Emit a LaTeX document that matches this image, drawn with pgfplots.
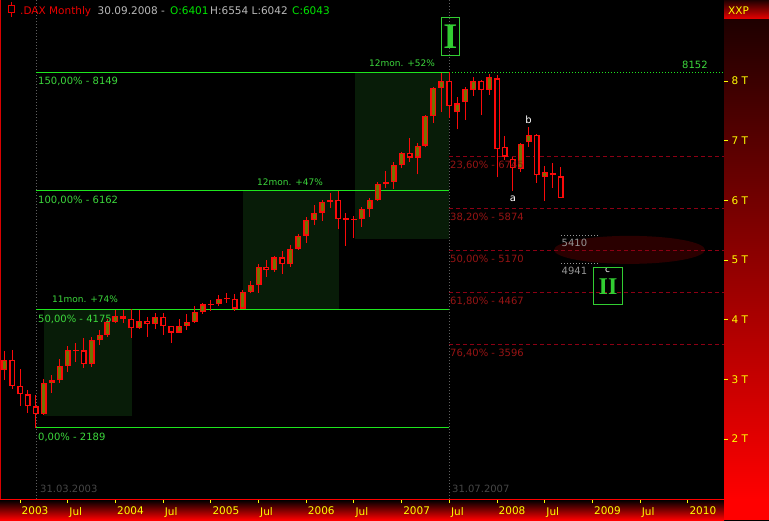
\documentclass[border=0pt]{standalone}
\usepackage{pgfplots}
\pgfplotsset{compat=1.18}
\usepackage{pgfplotstable}
\usepackage{fontspec}
\setmainfont{DejaVu Sans}
\newfontfamily\romanbold{Liberation Serif}[BoldFont=*,UprightFont=* Bold]
\definecolor{candle}{RGB}{250,10,10}
\definecolor{bullfill}{RGB}{115,115,0}
\definecolor{fibgreen}{RGB}{30,230,30}
\definecolor{labgreen}{RGB}{60,215,60}
\definecolor{zone}{RGB}{8,28,8}
\definecolor{fibred}{RGB}{140,0,20}
\definecolor{fibtext}{RGB}{150,20,20}
\definecolor{txtgrey}{RGB}{150,150,150}
\definecolor{hdrgrey}{RGB}{185,185,185}
\definecolor{hdrgreen}{RGB}{0,230,0}
\definecolor{hdrred}{RGB}{235,0,0}
\definecolor{dimgrey}{RGB}{70,70,70}
\definecolor{dotgrey}{RGB}{95,95,95}
\definecolor{ellred}{RGB}{42,0,0}
\definecolor{tickyellow}{RGB}{255,255,0}
\definecolor{bandtop}{RGB}{30,0,0}
\definecolor{boxgreen}{RGB}{50,205,50}

% DAX monthly OHLC, m = months since Jan 2003
\pgfplotstableread{
m o h l c
-2 3150 3470 2990 3320
-1 3320 3490 2840 2893
0 2893 3170 2560 2748
1 2748 2830 2440 2547
2 2547 2730 2189 2424
3 2424 3010 2398 2942
4 2942 3075 2779 2983
5 2983 3343 2936 3221
6 3221 3560 3126 3487
7 3487 3606 3293 3484
8 3484 3695 3193 3257
9 3257 3718 3200 3655
10 3655 3829 3583 3746
11 3746 4013 3717 3965
12 3965 4164 3941 4058
13 4058 4164 3952 4018
14 4018 4176 3700 3856
15 3856 4164 3841 3985
16 3985 4042 3717 3921
17 3921 4108 3851 4053
18 4053 4119 3745 3895
19 3895 3896 3617 3785
20 3785 4013 3780 3893
21 3893 4097 3829 3960
22 3960 4231 3952 4126
23 4126 4281 4097 4256
24 4256 4332 4153 4262
25 4255 4410 4232 4350
26 4350 4443 4276 4354
27 4349 4432 4147 4185
28 4185 4499 4180 4461
29 4461 4650 4440 4586
30 4586 4930 4444 4887
31 4887 4997 4722 4830
32 4830 5074 4806 5044
33 5044 5152 4762 4929
34 4929 5253 4889 5193
35 5193 5442 5169 5408
36 5408 5717 5291 5674
37 5674 5923 5588 5796
38 5796 6007 5655 5970
39 5970 6119 5868 6009
40 6009 6162 5516 5692
41 5692 5784 5243 5683
42 5683 5739 5365 5682
43 5682 5885 5560 5860
44 5860 6045 5717 6004
45 6004 6308 5990 6269
46 6269 6492 6203 6309
47 6309 6648 6196 6597
48 6597 6816 6537 6789
49 6789 7040 6650 6716
50 6716 6956 6437 6917
51 6917 7425 6889 7409
52 7409 7905 7302 7884
53 7884 8129 7486 8007
54 8007 8152 7375 7584
55 7476 7727 7191 7626
56 7643 7905 7347 7861
57 7844 8072 7749 8005
58 8005 8017 7430 7849
59 7849 8112 7771 8062
60 8045 8100 6387 6856
61 6889 7079 6677 6732
62 6688 6722 6163 6538
63 6521 6956 6481 6940
64 6973 7224 6900 7090
65 7090 7112 6296 6420
66 6387 6576 5995 6471
67 6454 6621 6213 6420
68 6401 6554 6042 6043
}\dax

\begin{document}
\begin{tikzpicture}[x=1pt,y=1pt]
\path[use as bounding box] (0,-21) rectangle (769,499);
% background in pixel coordinates
\begin{scope}[x=1pt,y=-1pt,shift={(0pt,499pt)}]
  \fill[black] (-1,-1) rectangle (770,521);
  \shade[top color=black, bottom color=red] (0,500) rectangle (724,520);
  \shade[top color=bandtop, bottom color=red] (724,19) rectangle (769,500);
  \shade[top color=bandtop, bottom color=red!92!black] (724,0) rectangle (769,19);
  \fill[red] (724,499) rectangle (769,520);
\end{scope}
\begin{axis}[
  at={(0pt,0pt)}, anchor=south west,
  width=724pt, height=499pt, scale only axis,
  xmin=-2.516, xmax=88.553, ymin=995, ymax=9357.5,
  axis line style={draw=none},
  xtick={0,6,...,84},
  xticklabels={2003,Jul,2004,Jul,2005,Jul,2006,Jul,2007,Jul,2008,Jul,2009,Jul,2010},
  ytick={2000,3000,...,8000},
  yticklabels={2 T,3 T,4 T,5 T,6 T,7 T,8 T},
  xtick pos=left, ytick pos=right,
  tick align=outside, major tick length=4pt,
  tick style={draw=tickyellow, line width=1pt},
  tick label style={text=tickyellow, font=\fontsize{10.5}{12}\selectfont},
  xticklabel style={anchor=north west, inner sep=0pt, xshift=1.5pt, yshift=-4pt},
  yticklabel style={anchor=west, inner sep=0pt, xshift=3.5pt},
]
% shaded growth zones
\fill[zone] (axis cs:3,2389) rectangle (axis cs:14.1,4175);
\fill[zone] (axis cs:28.05,4175) rectangle (axis cs:40.1,6162);
\fill[zone] (axis cs:42.1,5353) rectangle (axis cs:54,8149);
% vertical date markers
\draw[dotgrey, dash pattern=on 1pt off 2pt] (axis cs:2,995) -- (axis cs:2,9357.5);
\draw[dotgrey, dash pattern=on 1pt off 2pt] (axis cs:54,995) -- (axis cs:54,9357.5);
% target ellipse
\fill[ellred] (axis cs:76.67,5170) ellipse [x radius=75.5pt, y radius=14pt];
% extension levels
\draw[fibgreen, line width=1pt] (axis cs:2,8149) -- (axis cs:54,8149);
\draw[fibgreen, line width=1pt] (axis cs:2,6162) -- (axis cs:54,6162);
\draw[fibgreen, line width=1pt] (axis cs:2,4175) -- (axis cs:54,4175);
\draw[fibgreen, line width=1pt] (axis cs:2,2189) -- (axis cs:54,2189);
% retracement levels
\draw[fibred, dash pattern=on 4pt off 3pt] (axis cs:54,6745) -- (axis cs:88.553,6745);
\draw[fibred, dash pattern=on 4pt off 3pt] (axis cs:54,5874) -- (axis cs:88.553,5874);
\draw[fibred, dash pattern=on 4pt off 3pt] (axis cs:54,5170) -- (axis cs:88.553,5170);
\draw[fibred, dash pattern=on 4pt off 3pt] (axis cs:54,4467) -- (axis cs:88.553,4467);
\draw[fibred, dash pattern=on 4pt off 3pt] (axis cs:54,3596) -- (axis cs:88.553,3596);
\draw[fibgreen, dash pattern=on 1pt off 2pt] (axis cs:54,8152) -- (axis cs:88.553,8152);
\draw[txtgrey, dash pattern=on 1pt off 2pt] (axis cs:68.05,5410) -- (axis cs:72.6,5410);
\draw[txtgrey, dash pattern=on 1pt off 2pt] (axis cs:68.05,4941) -- (axis cs:72.6,4941);
% wicks
\addplot[draw=none, mark=none, forget plot,
  error bars/.cd, y dir=plus, y explicit, error mark=none,
  error bar style={draw=candle, line width=1pt, solid}]
  table[x=m, y=l, y error expr=\thisrow{h}-\thisrow{l}] {\dax};
% bodies (outline)
\addplot[draw=none, mark=none, forget plot,
  error bars/.cd, y dir=plus, y explicit, error mark=none,
  error bar style={draw=candle, line width=6pt, solid}]
  table[x=m, y expr={(\thisrow{o}+\thisrow{c})/2-max(abs(\thisrow{c}-\thisrow{o}),20)/2},
        y error expr={max(abs(\thisrow{c}-\thisrow{o}),20)}] {\dax};
% rising bodies: olive fill
\addplot[draw=none, mark=none, forget plot,
  error bars/.cd, y dir=plus, y explicit, error mark=none,
  error bar style={draw=bullfill, line width=3pt, solid}]
  table[x=m, y expr={min(\thisrow{o},\thisrow{c})+20},
        y error expr={(\thisrow{c}>\thisrow{o})*max(abs(\thisrow{c}-\thisrow{o})-40,0)}] {\dax};
% falling bodies: black fill
\addplot[draw=none, mark=none, forget plot,
  error bars/.cd, y dir=plus, y explicit, error mark=none,
  error bar style={draw=black, line width=3pt, solid}]
  table[x=m, y expr={min(\thisrow{o},\thisrow{c})+20},
        y error expr={(\thisrow{c}<\thisrow{o})*max(abs(\thisrow{c}-\thisrow{o})-40,0)}] {\dax};
\end{axis}
% annotations in pixel coordinates
\begin{scope}[x=1pt,y=-1pt,shift={(0pt,499pt)}]
  \draw[red, line width=1.2pt] (0,499.6) -- (724,499.6);
  \draw[red!85!black, line width=1pt] (0.5,0) -- (0.5,499);
  % header
  \draw[hdrred, line width=0.8pt] (11,2) -- (11,17);
  \filldraw[draw=hdrred, fill=black, line width=0.8pt] (8,5.5) rectangle (14,12.5);
  \begin{scope}[every node/.style={anchor=base west, inner sep=0pt, font=\fontsize{10.5}{12}\selectfont}]
    \node[text=hdrred] at (20,15) {.DAX Monthly};
    \node[text=hdrgrey] at (97.5,15) {30.09.2008 -};
    \node[text=hdrgreen] at (170,15) {O:6401};
    \node[text=hdrgrey] at (210,15) {H:6554 L:6042};
    \node[text=hdrgreen] at (292,15) {C:6043};
    \node[text=tickyellow] at (728,14.5) {XXP};
  \end{scope}
  \begin{scope}[every node/.style={anchor=base west, inner sep=0pt, font=\fontsize{10}{12}\selectfont}]
    \node[text=labgreen] at (38,85) {150,00\% - 8149};
    \node[text=labgreen] at (38,203.7) {100,00\% - 6162};
    \node[text=labgreen] at (38,322.4) {50,00\% - 4175};
    \node[text=labgreen] at (38,440.7) {0,00\% - 2189};
    \node[text=labgreen] at (682,69) {8152};
    \node[text=fibtext] at (450,168.4) {23,60\% - 6745};
    \node[text=fibtext] at (450,220.4) {38,20\% - 5874};
    \node[text=fibtext] at (450,262.4) {50,00\% - 5170};
    \node[text=fibtext] at (450,304.4) {61,80\% - 4467};
    \node[text=fibtext] at (450,356.4) {76,40\% - 3596};
    \node[text=txtgrey] at (561.5,246.7) {5410};
    \node[text=txtgrey] at (561.5,275) {4941};
    \node[text=dimgrey] at (40,492) {31.03.2003};
    \node[text=dimgrey] at (452,492) {31.07.2007};
  \end{scope}
  \begin{scope}[every node/.style={anchor=base west, inner sep=0pt, font=\fontsize{9}{11}\selectfont, text=labgreen}]
    \node at (52,303) {11mon. +74\%};
    \node at (257,185.7) {12mon. +47\%};
    \node at (369,67) {12mon. +52\%};
  \end{scope}
  \node[text=white, inner sep=0pt, font=\fontsize{10}{12}\selectfont] at (513,199) {a};
  \node[text=white, inner sep=0pt, font=\fontsize{10}{12}\selectfont] at (528.5,119.5) {b};
  \node[text=white, inner sep=0pt, font=\fontsize{9}{11}\selectfont] at (607.5,270.5) {c};
  % wave boxes
  \draw[boxgreen, line width=1pt] (441.5,17.5) rectangle (459.5,55.5);
  \node[text=boxgreen, inner sep=0pt, font=\romanbold\fontsize{36}{36}\selectfont] at (450.5,36.5) {I};
  \draw[boxgreen, line width=1pt] (593.5,267.5) rectangle (622.5,304.5);
  \node[text=boxgreen, inner sep=0pt, font=\romanbold\fontsize{24}{24}\selectfont] at (608,286.5) {II};
\end{scope}
\end{tikzpicture}
\end{document}
